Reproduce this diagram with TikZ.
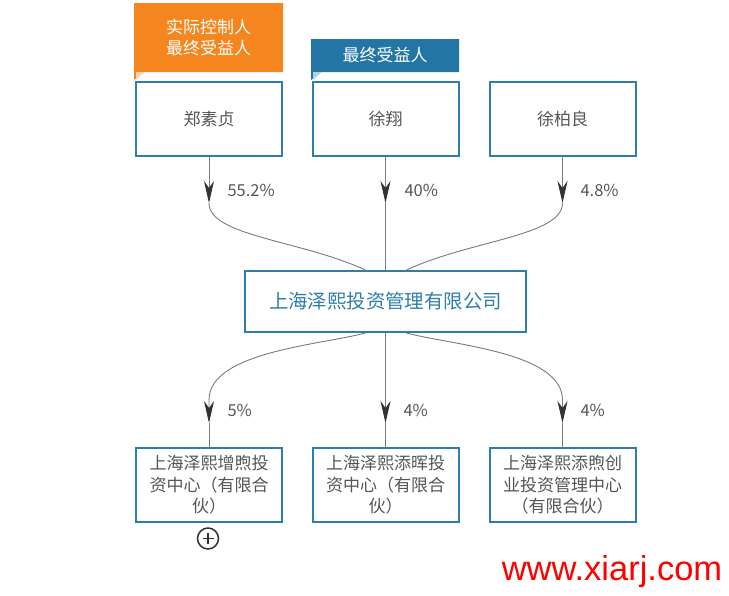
\documentclass[tikz,border=0pt]{standalone}
\usepackage{fontspec}
\setmainfont{Noto Sans CJK SC}
\newfontfamily\webfont{Liberation Sans}
\usetikzlibrary{arrows.meta, calc}
\definecolor{tagorange}{HTML}{F5861F}
\definecolor{tagblue}{HTML}{2376A4}
\definecolor{boxblue}{HTML}{2E7EAD}
\definecolor{txtgray}{HTML}{555555}
\definecolor{linegray}{HTML}{7A7A7A}
\definecolor{tipgray}{HTML}{333333}

\begin{document}
\begin{tikzpicture}[x=1pt, y=-1pt,
    holder/.style={draw=boxblue, line width=2pt, fill=white, minimum width=146pt,
                   minimum height=74pt, inner sep=0pt, align=center, text=txtgray,
                   font=\fontsize{17}{21.5}\selectfont},
    firm/.style={draw=boxblue, line width=2pt, fill=white, minimum width=281pt,
                 minimum height=61pt, inner sep=0pt, text=boxblue,
                 font=\fontsize{19.4}{22}\selectfont},
    tagtext/.style={text=white, align=center, font=\fontsize{17}{21}\selectfont},
    share/.style={text=txtgray, anchor=west, font=\fontsize{16.5}{19}\selectfont},
    link/.style={draw=linegray, line width=0.9pt},
    arr/.style={link, -{Stealth[length=22pt, width=10pt, inset=7pt, color=tipgray]}}]
  \useasboundingbox (0,0) rectangle (729,595);

  % tags above the holders
  \fill[tagorange] (134,3) -- (283,3) -- (283,72) -- (144,72) -- (134,80) -- cycle;
  \fill[tagorange!35] (136,80) -- (144,72) -- (136,72) -- cycle;
  \node[tagtext] (tagctl) at (208.5,37.5) {实际控制人\\最终受益人};
  \fill[tagblue] (311,39) -- (459,39) -- (459,72) -- (321,72) -- (311,80) -- cycle;
  \fill[tagblue!35] (313,80) -- (321,72) -- (313,72) -- cycle;
  \node[tagtext] (tagben) at (385,55) {最终受益人};

  % holders
  \node[holder] (zsz) at (209,119) {郑素贞};
  \node[holder] (xx) at (385.5,119) {徐翔};
  \node[holder] (xbl) at (562.5,119) {徐柏良};

  % company
  \node[firm] (zx) at (385.5,301.5) {上海泽熙投资管理有限公司};

  % holdings
  \node[holder] (zxzx) at (209,485) {上海泽熙增煦投\\资中心（有限合\\伙）};
  \node[holder] (zxth) at (385.5,485) {上海泽熙添晖投\\资中心（有限合\\伙）};
  \node[holder] (zxtx) at (562.5,485) {上海泽熙添煦创\\业投资管理中心\\（有限合伙）};

  % arrow tips
  \coordinate (tipa) at (209,203);
  \coordinate (tipb) at (385.5,203);
  \coordinate (tipc) at (562.5,203);
  \coordinate (tipd) at (209,423);
  \coordinate (tipe) at (385.5,423);
  \coordinate (tipf) at (562.5,423);

  % upper links
  \draw[arr] (zsz.south) -- (tipa);
  \draw[arr] (xx.south) -- (tipb);
  \draw[arr] (xbl.south) -- (tipc);
  \draw[link] (tipa) .. controls (209,236) and (300,240) .. ([xshift=-20pt]zx.north);
  \draw[link] (tipb) -- (zx.north);
  \draw[link] (tipc) .. controls (562.5,236) and (471,240) .. ([xshift=21pt]zx.north);
  \node[share] (pa) at (224,190) {55.2\%};
  \node[share] (pb) at (401,190) {40\%};
  \node[share] (pc) at (577,190) {4.8\%};

  % lower links
  \draw[arr] ([xshift=-20pt]zx.south) .. controls (320,345) and (209,352) .. (209,400) -- (tipd);
  \draw[arr] (zx.south) -- (tipe);
  \draw[arr] ([xshift=21pt]zx.south) .. controls (451,345) and (562.5,352) .. (562.5,400) -- (tipf);
  \draw[link] (tipd) -- (zxzx.north);
  \draw[link] (tipe) -- (zxth.north);
  \draw[link] (tipf) -- (zxtx.north);
  \node[share] (pd) at (224,410) {5\%};
  \node[share] (pe) at (400,410) {4\%};
  \node[share] (pf) at (577,410) {4\%};

  % expand button
  \node[circle, draw=tipgray, line width=1.5pt, minimum size=21pt, inner sep=0pt] (more) at (208,538.5) {};
  \draw[tipgray, line width=1.7pt] ([xshift=-5.5pt]more.center) -- ([xshift=5.5pt]more.center)
    ([yshift=-5.5pt]more.center) -- ([yshift=5.5pt]more.center);

  % watermark
  \node[text=red, font=\webfont\fontsize{34.5}{36}\selectfont] (site) at (612,572) {www.xiarj.com};
\end{tikzpicture}
\end{document}
